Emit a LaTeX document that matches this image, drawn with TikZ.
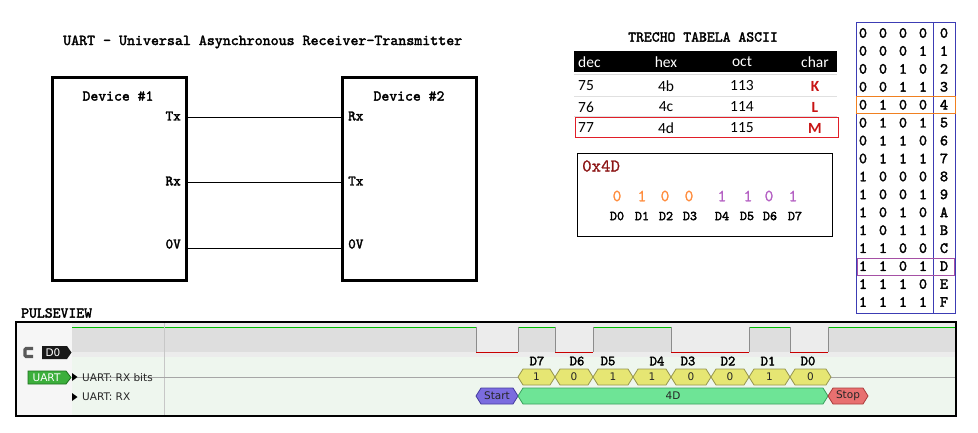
\documentclass[tikz,border=0pt]{standalone}
\usepackage{fontspec}
\newfontfamily\calib{Carlito}
\newfontfamily\pvf{DejaVu Sans}
\newfontfamily\courb[FakeBold=2.2]{lmmono10-regular.otf}
\newfontfamily\courm[FakeBold=0.8]{lmmono10-regular.otf}
\newcommand\mymono[1]{\courb\fontsize{#1}{#1}\selectfont}
\newcommand\mymonol[1]{\courm\fontsize{#1}{#1}\selectfont}
\definecolor{nibblue}{RGB}{60,60,180}
\definecolor{nibor}{RGB}{240,128,32}
\definecolor{nibpu}{RGB}{165,80,165}
\definecolor{bitor}{RGB}{255,140,60}
\definecolor{bitpu}{RGB}{180,95,195}
\definecolor{hexred}{RGB}{140,20,20}
\definecolor{charred}{RGB}{200,20,20}
\definecolor{boxred}{RGB}{225,30,40}
\definecolor{wgreen}{RGB}{0,190,0}
\definecolor{wred}{RGB}{200,0,0}
\definecolor{bandlo}{RGB}{236,236,236}
\definecolor{bandhi}{RGB}{222,222,222}
\definecolor{rowgreen}{RGB}{238,246,238}
\definecolor{leftgrey}{RGB}{246,246,246}
\definecolor{bitfill}{RGB}{230,230,115}
\definecolor{bitdraw}{RGB}{150,150,80}
\definecolor{startfill}{RGB}{123,108,223}
\definecolor{startdraw}{RGB}{70,60,160}
\definecolor{datafill}{RGB}{110,228,150}
\definecolor{datadraw}{RGB}{60,160,95}
\definecolor{stopfill}{RGB}{232,112,112}
\definecolor{stopdraw}{RGB}{170,60,60}
\definecolor{uartfill}{RGB}{60,175,60}
\definecolor{uartdraw}{RGB}{30,110,30}
\newcommand\pvhex[7]{%
  \filldraw[fill=#5,draw=#6,line width=0.8] (#2,#4) -- (#2+5,#4-8) -- (#3-5,#4-8) -- (#3,#4) -- (#3-5,#4+8) -- (#2+5,#4+8) -- cycle;
  \node[pvtext] (#1) at ({(#2+#3)/2},#4) {#7};}
\begin{document}
\begin{tikzpicture}[x=1pt,y=-1pt,
  devbox/.style={draw,line width=3,minimum width=134,minimum height=203,anchor=north west,inner sep=0,outer sep=0},
  monolab/.style={font=\mymono{14.5},inner sep=0},
  tabtext/.style={font=\calib\fontsize{15.5}{15.5}\selectfont,inner sep=0},
  nib/.style={font=\mymono{15.5},inner sep=0},
  pvtext/.style={font=\pvf\fontsize{10.5}{10.5}\selectfont,inner sep=0,text=black!85},
  wire/.style={line width=0.8}]
\useasboundingbox (0,0) rectangle (978,432);
\fill[white] (0,0) rectangle (978,432);

% ---------- UART diagram ----------
\node[monolab,font=\mymono{15.2},anchor=west] (title) at (63,42) {UART - Universal Asynchronous Receiver-Transmitter};
\node[devbox] (dev1) at (52,77) {};
\node[devbox] (dev2) at (342,77) {};
\node[monolab,font=\mymono{15}] (d1name) at (118,96) {Device \#1};
\node[monolab,font=\mymono{15}] (d2name) at (409,96) {Device \#2};
\node[monolab,anchor=east] (d1tx) at (181,116) {Tx};
\node[monolab,anchor=east] (d1rx) at (181,181) {Rx};
\node[monolab,anchor=east] (d1gnd) at (181,244) {0V};
\node[monolab,anchor=west] (d2rx) at (348,116) {Rx};
\node[monolab,anchor=west] (d2tx) at (348,181) {Tx};
\node[monolab,anchor=west] (d2gnd) at (348,244) {0V};
\coordinate (w1a) at (186,117); \coordinate (w1b) at (341,117);
\coordinate (w2a) at (186,182); \coordinate (w2b) at (341,182);
\coordinate (w3a) at (186,248); \coordinate (w3b) at (341,248);
\draw[wire] (w1a) -- (w1b);
\draw[wire] (w2a) -- (w2b);
\draw[wire] (w3a) -- (w3b);

% ---------- ASCII table ----------
\node[monolab,font=\mymono{15}] (asciititle) at (703,37) {TRECHO TABELA ASCII};
\fill[black] (574,51) rectangle (837,72);
\draw[black!15,line width=1] (574,74.5) -- (837,74.5);
\draw[black!12,line width=0.8] (574,96) -- (837,96);
\draw[black!12,line width=0.8] (574,116) -- (837,116);
\node[tabtext,text=white,anchor=west] (hdec) at (578,62) {dec};
\node[tabtext,text=white] (hhex) at (666,62) {hex};
\node[tabtext,text=white] (hoct) at (742,62) {oct};
\node[tabtext,text=white] (hchar) at (815,62) {char};
\foreach \d/\h/\o/\c/\y [count=\i] in {75/4b/113/K/86,76/4c/114/L/107,77/4d/115/M/128}{
  \node[tabtext,anchor=west] (rdec\i) at (578,\y) {\d};
  \node[tabtext] (rhex\i) at (666,\y) {\h};
  \node[tabtext] (roct\i) at (742,\y) {\o};
  \node[tabtext,font=\calib\bfseries\fontsize{15.5}{15.5}\selectfont,text=charred] (rchar\i) at (815,\y) {\c};
}
\draw[boxred,line width=1] (575,117) rectangle (838,137);

% ---------- hex box ----------
\draw[line width=1] (577,153) rectangle (832,236);
\node[inner sep=0,font=\mymonol{18},text=hexred,anchor=west] (hexval) at (582,166) {0x4D};
\foreach \v/\x/\c [count=\i from 0] in {0/617/bitor,1/642/bitor,0/665/bitor,0/689/bitor,1/722/bitpu,1/748/bitpu,0/769/bitpu,1/793/bitpu}{
  \node[inner sep=0,font=\mymonol{17},text=\c] (bv\i) at (\x,196) {\v};
}
\foreach \x [count=\i from 0] in {617,642,666,690,722,747,770,795}{
  \node[monolab,font=\mymono{13.5}] (bl\i) at (\x,216) {D\i};
}

% ---------- nibble table ----------
\draw[nibblue,line width=1] (856,22) rectangle (955,313);
\draw[nibblue,line width=1] (933,22) -- (933,313);
\foreach \a/\b/\c/\d/\h [count=\i from 0] in {0/0/0/0/0,0/0/0/1/1,0/0/1/0/2,0/0/1/1/3,0/1/0/0/4,0/1/0/1/5,0/1/1/0/6,0/1/1/1/7,1/0/0/0/8,1/0/0/1/9,1/0/1/0/A,1/0/1/1/B,1/1/0/0/C,1/1/0/1/D,1/1/1/0/E,1/1/1/1/F}{
  \pgfmathsetmacro\yy{33+17.93*\i}
  \node[nib] (na\i) at (863,\yy) {\a};
  \node[nib] (nb\i) at (883,\yy) {\b};
  \node[nib] (nc\i) at (903,\yy) {\c};
  \node[nib] (nd\i) at (923,\yy) {\d};
  \node[nib] (nh\i) at (944,\yy) {\h};
}
\draw[nibor,line width=1] (856,96) rectangle (955,113.5);
\draw[nibpu,line width=1] (857,258) rectangle (954,275);

% ---------- PulseView ----------
\node[monolab,font=\mymono{15},anchor=west] (pvtitle) at (21,313) {PULSEVIEW};
\fill[leftgrey] (16,322) rectangle (72,416);
\fill[bandlo] (72,322) rectangle (956,357);
\fill[rowgreen] (72,357) rectangle (956,416);
\foreach \a/\b in {72/476,518/555,593/671,749/790,828/956}{
  \fill[bandhi] (\a,327) rectangle (\b,352);
  \draw[wgreen,line width=1] (\a,327) -- (\b,327);
}
\foreach \a/\b in {476/518,555/593,671/749,790/828}{
  \draw[wred,line width=1] (\a,352) -- (\b,352);
}
\foreach \x in {476,518,555,593,671,749,790,828}{
  \draw[black!45,line width=1] (\x,327) -- (\x,352);
}
\draw[black!22,line width=0.8] (164,322) -- (164,416);
\draw[black!35,line width=0.7] (77,377) -- (956,377);

% left header
\draw[black!65,line width=3.2,rounded corners=1.2] (33,348.5) -- (25,348.5) -- (25,356.5) -- (33,356.5);
\fill[black!90] (42,346) -- (67,346) -- (71.5,352.5) -- (67,359) -- (42,359) -- cycle;
\node[pvtext,text=white] (d0tag) at (53,352.5) {D0};
\filldraw[fill=uartfill,draw=uartdraw,line width=0.8] (28,371) -- (66,371) -- (71,377.5) -- (66,384) -- (28,384) -- cycle;
\node[pvtext,text=white] (uarttag) at (46.5,377.5) {UART};
\fill[black] (72,373) -- (77.5,377) -- (72,381) -- cycle;
\fill[black] (72,393) -- (77.5,397) -- (72,401) -- cycle;
\node[pvtext,anchor=west] (rxbits) at (82,377.5) {UART: RX bits};
\node[pvtext,anchor=west] (rx) at (82,397) {UART: RX};

% bit annotations
\pvhex{h7}{518}{555}{377}{bitfill}{bitdraw}{1}
\pvhex{h6}{555}{593}{377}{bitfill}{bitdraw}{0}
\pvhex{h5}{593}{633}{377}{bitfill}{bitdraw}{1}
\pvhex{h4}{633}{671}{377}{bitfill}{bitdraw}{1}
\pvhex{h3}{671}{711}{377}{bitfill}{bitdraw}{0}
\pvhex{h2}{711}{749}{377}{bitfill}{bitdraw}{0}
\pvhex{h1}{749}{790}{377}{bitfill}{bitdraw}{1}
\pvhex{h0}{790}{831}{377}{bitfill}{bitdraw}{0}
\foreach \x/\n in {537/7,577/6,608/5,657/4,688/3,728/2,768/1,808/0}{
  \node[monolab,font=\mymono{14}] (dl\n) at (\x,361) {D\n};
}
\pvhex{hstart}{476}{518}{396}{startfill}{startdraw}{Start}
\pvhex{hdata}{518}{828}{396}{datafill}{datadraw}{4D}
\pvhex{hstop}{828}{868}{396}{stopfill}{stopdraw}{Stop}

\draw[black,line width=1.2] (16,322) rectangle (956,416);
\end{tikzpicture}
\end{document}
